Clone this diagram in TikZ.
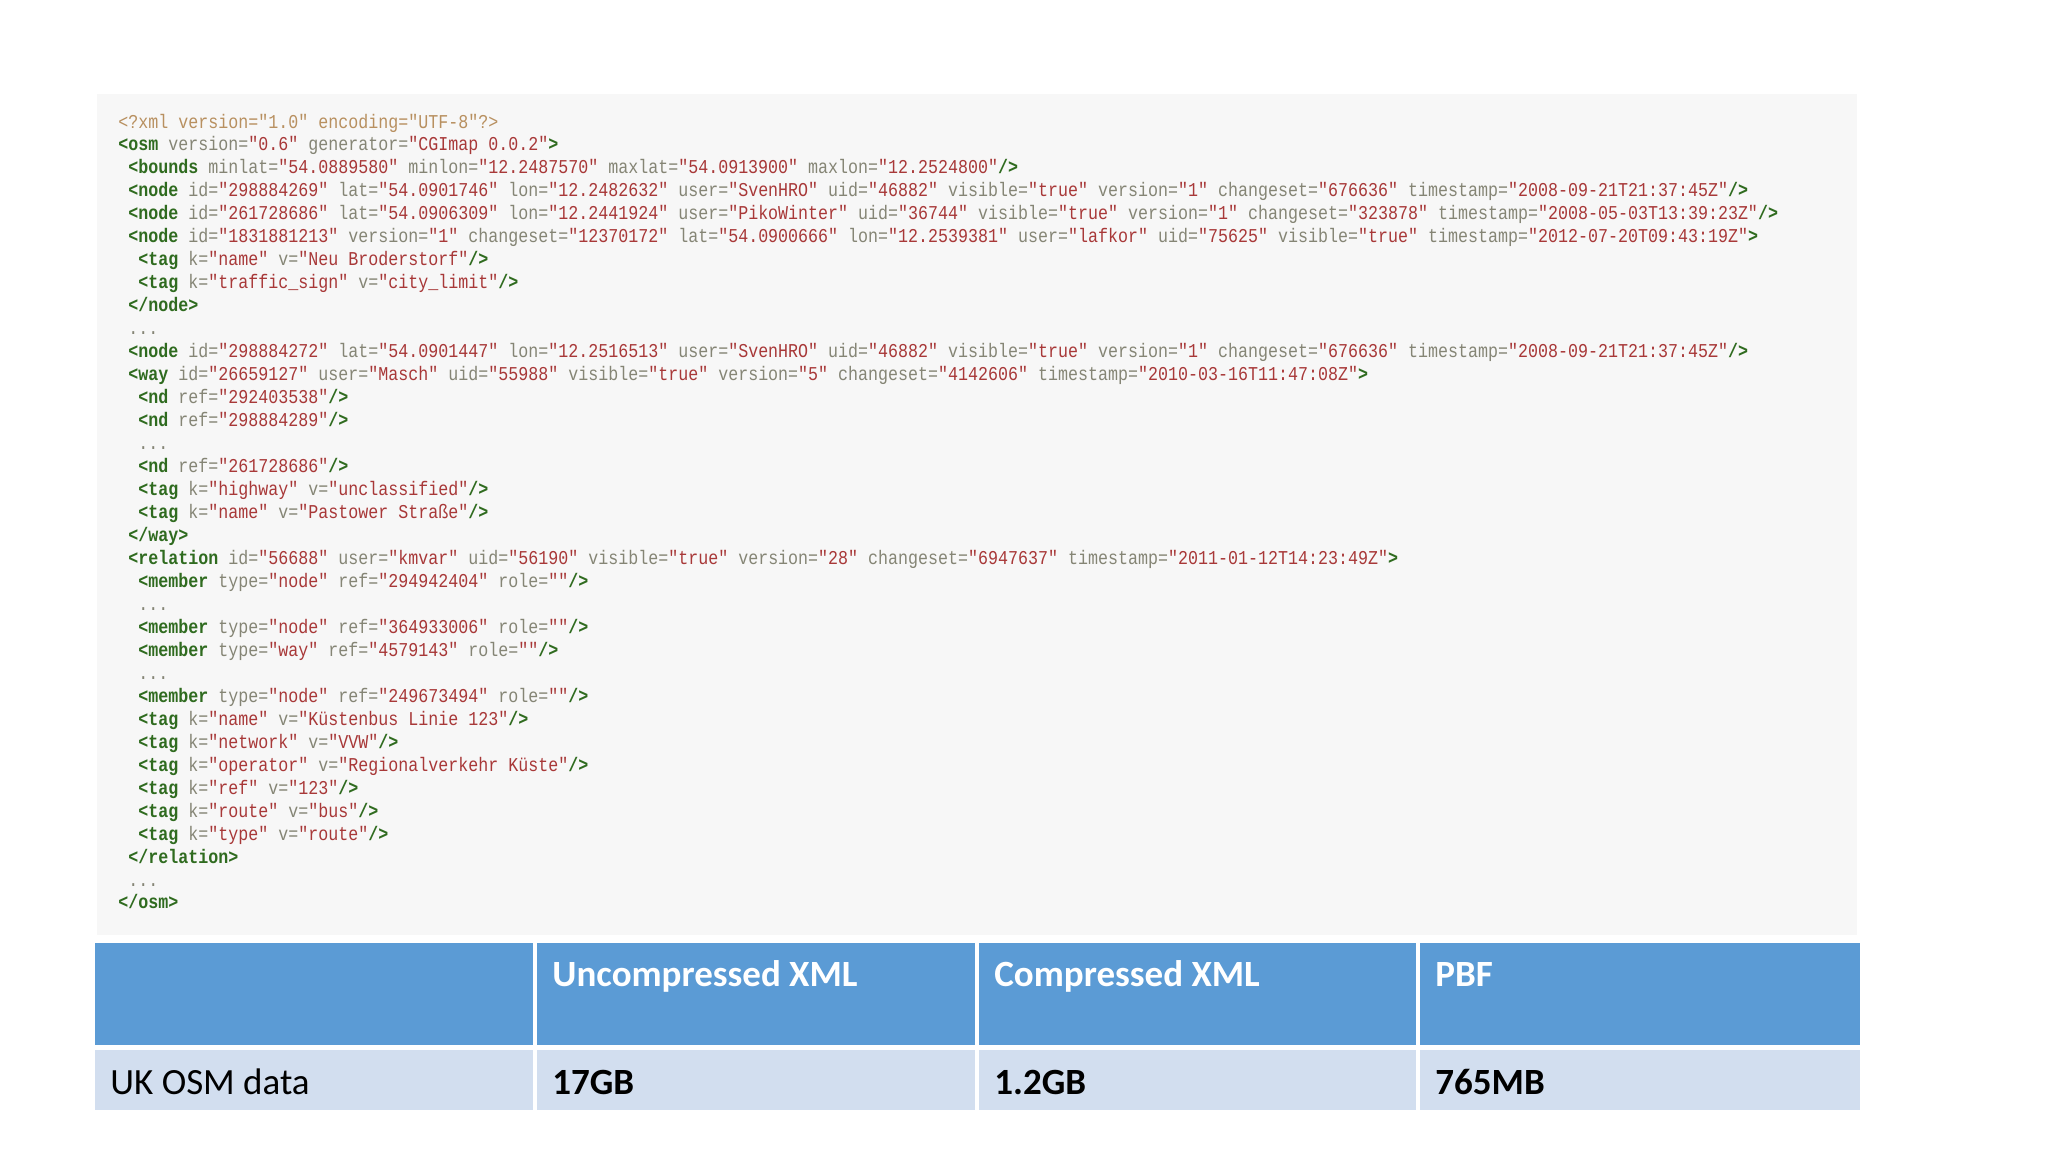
\documentclass[tikz,border=0pt]{standalone}
\usepackage{fontspec}
\setmainfont{Carlito}
\newfontfamily\codefont[FakeStretch=0.85]{Liberation Mono}
\definecolor{tagc}{HTML}{2F6B1F}
\definecolor{attc}{HTML}{858575}
\definecolor{valc}{HTML}{A83838}
\definecolor{declc}{HTML}{B89060}
\definecolor{codebg}{HTML}{F7F7F7}
\definecolor{hdr}{HTML}{5B9BD5}
\definecolor{rowc}{HTML}{D2DEEF}
\newcommand\tg[1]{\textcolor{tagc}{\bfseries #1}}
\newcommand\at[2]{\textcolor{attc}{#1=}\textcolor{valc}{"#2"}}
\newcommand\gr[1]{\textcolor{attc}{#1}}
\tikzset{code/.style={anchor=base west,inner sep=0,font=\codefont\fontsize{9.8}{11}\selectfont},
hdrtxt/.style={anchor=base west,inner sep=0,text=white,font=\bfseries\fontsize{18.5}{20}\selectfont},
rowtxt/.style={anchor=base west,inner sep=0,text=black,font=\fontsize{18.5}{20}\selectfont}}
\begin{document}
\begin{tikzpicture}[x=0.5pt,y=-0.5pt]
\useasboundingbox (0,0) rectangle (2048,1152);
\fill[white] (0,0) rectangle (2048,1152);
\fill[codebg] (97,94) rectangle (1857,935);
\def\cx{118}\def\cw{10}
\newcommand\codeln[4]{\node[code] (#1) at (\cx+#2*\cw, 128+#3*22.97) {#4};}
\codeln{l1}{0}{0}{\textcolor{declc}{<?xml version="1.0" encoding="UTF-8"?>}}
\codeln{l2}{0}{1}{\tg{<osm} \at{version}{0.6} \at{generator}{CGImap 0.0.2}\tg{>}}
\codeln{l3}{1}{2}{\tg{<bounds} \at{minlat}{54.0889580} \at{minlon}{12.2487570} \at{maxlat}{54.0913900} \at{maxlon}{12.2524800}\tg{/>}}
\codeln{l4}{1}{3}{\tg{<node} \at{id}{298884269} \at{lat}{54.0901746} \at{lon}{12.2482632} \at{user}{SvenHRO} \at{uid}{46882} \at{visible}{true} \at{version}{1} \at{changeset}{676636} \at{timestamp}{2008-09-21T21:37:45Z}\tg{/>}}
\codeln{l5}{1}{4}{\tg{<node} \at{id}{261728686} \at{lat}{54.0906309} \at{lon}{12.2441924} \at{user}{PikoWinter} \at{uid}{36744} \at{visible}{true} \at{version}{1} \at{changeset}{323878} \at{timestamp}{2008-05-03T13:39:23Z}\tg{/>}}
\codeln{l6}{1}{5}{\tg{<node} \at{id}{1831881213} \at{version}{1} \at{changeset}{12370172} \at{lat}{54.0900666} \at{lon}{12.2539381} \at{user}{lafkor} \at{uid}{75625} \at{visible}{true} \at{timestamp}{2012-07-20T09:43:19Z}\tg{>}}
\codeln{l7}{2}{6}{\tg{<tag} \at{k}{name} \at{v}{Neu Broderstorf}\tg{/>}}
\codeln{l8}{2}{7}{\tg{<tag} \at{k}{traffic\_sign} \at{v}{city\_limit}\tg{/>}}
\codeln{l9}{1}{8}{\tg{</node>}}
\codeln{l10}{1}{9}{\gr{...}}
\codeln{l11}{1}{10}{\tg{<node} \at{id}{298884272} \at{lat}{54.0901447} \at{lon}{12.2516513} \at{user}{SvenHRO} \at{uid}{46882} \at{visible}{true} \at{version}{1} \at{changeset}{676636} \at{timestamp}{2008-09-21T21:37:45Z}\tg{/>}}
\codeln{l12}{1}{11}{\tg{<way} \at{id}{26659127} \at{user}{Masch} \at{uid}{55988} \at{visible}{true} \at{version}{5} \at{changeset}{4142606} \at{timestamp}{2010-03-16T11:47:08Z}\tg{>}}
\codeln{l13}{2}{12}{\tg{<nd} \at{ref}{292403538}\tg{/>}}
\codeln{l14}{2}{13}{\tg{<nd} \at{ref}{298884289}\tg{/>}}
\codeln{l15}{2}{14}{\gr{...}}
\codeln{l16}{2}{15}{\tg{<nd} \at{ref}{261728686}\tg{/>}}
\codeln{l17}{2}{16}{\tg{<tag} \at{k}{highway} \at{v}{unclassified}\tg{/>}}
\codeln{l18}{2}{17}{\tg{<tag} \at{k}{name} \at{v}{Pastower Straße}\tg{/>}}
\codeln{l19}{1}{18}{\tg{</way>}}
\codeln{l20}{1}{19}{\tg{<relation} \at{id}{56688} \at{user}{kmvar} \at{uid}{56190} \at{visible}{true} \at{version}{28} \at{changeset}{6947637} \at{timestamp}{2011-01-12T14:23:49Z}\tg{>}}
\codeln{l21}{2}{20}{\tg{<member} \at{type}{node} \at{ref}{294942404} \at{role}{}\tg{/>}}
\codeln{l22}{2}{21}{\gr{...}}
\codeln{l23}{2}{22}{\tg{<member} \at{type}{node} \at{ref}{364933006} \at{role}{}\tg{/>}}
\codeln{l24}{2}{23}{\tg{<member} \at{type}{way} \at{ref}{4579143} \at{role}{}\tg{/>}}
\codeln{l25}{2}{24}{\gr{...}}
\codeln{l26}{2}{25}{\tg{<member} \at{type}{node} \at{ref}{249673494} \at{role}{}\tg{/>}}
\codeln{l27}{2}{26}{\tg{<tag} \at{k}{name} \at{v}{Küstenbus Linie 123}\tg{/>}}
\codeln{l28}{2}{27}{\tg{<tag} \at{k}{network} \at{v}{VVW}\tg{/>}}
\codeln{l29}{2}{28}{\tg{<tag} \at{k}{operator} \at{v}{Regionalverkehr Küste}\tg{/>}}
\codeln{l30}{2}{29}{\tg{<tag} \at{k}{ref} \at{v}{123}\tg{/>}}
\codeln{l31}{2}{30}{\tg{<tag} \at{k}{route} \at{v}{bus}\tg{/>}}
\codeln{l32}{2}{31}{\tg{<tag} \at{k}{type} \at{v}{route}\tg{/>}}
\codeln{l33}{1}{32}{\tg{</relation>}}
\codeln{l34}{1}{33}{\gr{...}}
\codeln{l35}{0}{34}{\tg{</osm>}}
% table
\fill[hdr] (95,943) rectangle (533,1045);
\fill[hdr] (537,943) rectangle (975,1045);
\fill[hdr] (979,943) rectangle (1416,1045);
\fill[hdr] (1420,943) rectangle (1860,1045);
\fill[rowc] (95,1050) rectangle (533,1110);
\fill[rowc] (537,1050) rectangle (975,1110);
\fill[rowc] (979,1050) rectangle (1416,1110);
\fill[rowc] (1420,1050) rectangle (1860,1110);
\node[hdrtxt] (h1) at (552,986) {Uncompressed XML};
\node[hdrtxt] (h2) at (994,986) {Compressed XML};
\node[hdrtxt] (h3) at (1435,986) {PBF};
\node[rowtxt] (r0) at (110,1094) {UK OSM data};
\node[rowtxt,font=\bfseries\fontsize{18.5}{20}\selectfont] (r1) at (552,1094) {17GB};
\node[rowtxt,font=\bfseries\fontsize{18.5}{20}\selectfont] (r2) at (994,1094) {1.2GB};
\node[rowtxt,font=\bfseries\fontsize{18.5}{20}\selectfont] (r3) at (1435,1094) {765MB};
\end{tikzpicture}
\end{document}
